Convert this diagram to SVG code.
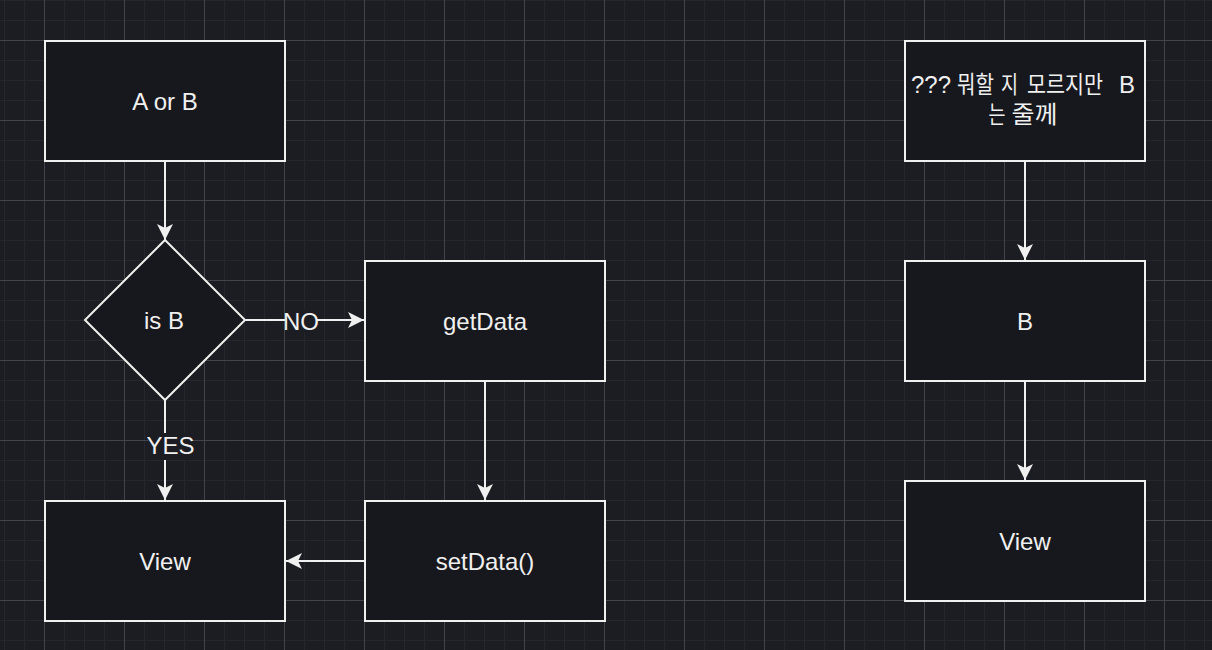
<svg xmlns="http://www.w3.org/2000/svg" width="1212" height="650" viewBox="0 0 1212 650">
  <defs>
    <pattern id="grid" patternUnits="userSpaceOnUse" x="44" y="40" width="80" height="80">
      <rect x="0" y="0" width="80" height="80" fill="#1c1d22"/>
      <rect x="20" y="0" width="1" height="80" fill="#26272c"/>
      <rect x="40" y="0" width="1" height="80" fill="#26272c"/>
      <rect x="60" y="0" width="1" height="80" fill="#26272c"/>
      <rect x="0" y="20" width="80" height="1" fill="#26272c"/>
      <rect x="0" y="40" width="80" height="1" fill="#26272c"/>
      <rect x="0" y="60" width="80" height="1" fill="#26272c"/>
      <rect x="0" y="0" width="1" height="80" fill="#434449"/>
      <rect x="0" y="0" width="80" height="1" fill="#434449"/>
    </pattern>
    <marker id="arrow" markerUnits="userSpaceOnUse" markerWidth="18" markerHeight="18" refX="16" refY="8" orient="auto" viewBox="0 0 18 18" overflow="visible">
      <path d="M16,8 L0,0 L4,8 L0,16 Z" fill="#f0f0f0"/>
    </marker>
  </defs>
  <style>
    .box { fill: #17181d; stroke: #f0f0f0; stroke-width: 2; }
    .lbl { font-family: "Liberation Sans", Arial, sans-serif; font-size: 24px; fill: #f0f0f0; text-anchor: middle; }
    .kr { font-family: "Liberation Sans", "Noto Sans CJK KR", sans-serif; font-size: 24px; fill: #f0f0f0; }
    .han { font-family: "Noto Sans CJK KR", sans-serif; font-size: 23.5px; }
    .edge { fill: none; stroke: #f0f0f0; stroke-width: 2; marker-end: url(#arrow); }
    .bg { fill: #1c1d22; }
  </style>
  <rect x="0" y="0" width="1212" height="650" fill="url(#grid)"/>

  <g id="connectors">
    <path class="edge" d="M165,161 V240"/>
    <path class="edge" d="M245,320 H364"/>
    <path class="edge" d="M165,400 V500"/>
    <path class="edge" d="M485,381 V500"/>
    <path class="edge" d="M365,561 H286"/>
    <path class="edge" d="M1025,161 V260"/>
    <path class="edge" d="M1025,381 V480"/>
    <g id="label-no">
      <rect class="bg" x="285" y="309" width="32" height="24"/>
      <text class="lbl" x="301" y="329.5">NO</text>
    </g>
    <g id="label-yes">
      <rect class="bg" x="148" y="433" width="45" height="27"/>
      <text class="lbl" x="170.5" y="454">YES</text>
    </g>
  </g>

  <g id="node-aorb">
    <rect class="box" x="45" y="41" width="240" height="120"/>
    <text class="lbl" x="165" y="109.5">A or B</text>
  </g>
  <g id="node-isb">
    <polygon class="box" points="165,240 245,320 165,400 85,320"/>
    <text class="lbl" x="164" y="329">is B</text>
  </g>
  <g id="node-getdata">
    <rect class="box" x="365" y="261" width="240" height="120"/>
    <text class="lbl" x="485" y="329.5">getData</text>
  </g>
  <g id="node-setdata">
    <rect class="box" x="365" y="501" width="240" height="120"/>
    <text class="lbl" x="485" y="569.5">setData()</text>
  </g>
  <g id="node-view-left">
    <rect class="box" x="45" y="501" width="240" height="120"/>
    <text class="lbl" x="165" y="569.5">View</text>
  </g>
  <g id="node-unknown">
    <rect class="box" x="905" y="41" width="240" height="120"/>
    <text class="kr" y="93"><tspan x="911">???</tspan><tspan class="han" x="957" textLength="37" lengthAdjust="spacingAndGlyphs">뭐할</tspan><tspan class="han" x="1001" textLength="17" lengthAdjust="spacingAndGlyphs">지</tspan><tspan class="han" x="1027" textLength="76" lengthAdjust="spacingAndGlyphs">모르지만</tspan><tspan x="1119">B</tspan></text>
    <text class="kr" y="123"><tspan class="han" x="988.5" textLength="17" lengthAdjust="spacingAndGlyphs">는</tspan><tspan class="han" x="1011.5" textLength="46" lengthAdjust="spacingAndGlyphs">줄께</tspan></text>
  </g>
  <g id="node-b">
    <rect class="box" x="905" y="261" width="240" height="120"/>
    <text class="lbl" x="1025" y="329.5">B</text>
  </g>
  <g id="node-view-right">
    <rect class="box" x="905" y="481" width="240" height="120"/>
    <text class="lbl" x="1025" y="549.5">View</text>
  </g>
</svg>
